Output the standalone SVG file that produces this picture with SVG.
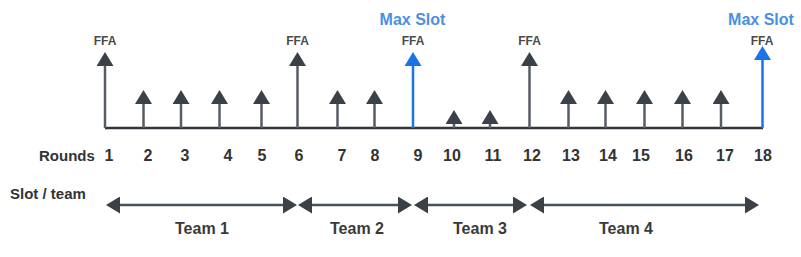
<svg xmlns="http://www.w3.org/2000/svg" width="801" height="257" viewBox="0 0 801 257">
<style>
text{font-family:"Liberation Sans",Arial,sans-serif;font-weight:bold;text-anchor:middle}
.ffa{font-size:12px;fill:#4a4a4a}
.max{font-size:16px;fill:#4a90e2}
.num{font-size:16px;fill:#333}
.lbl{font-size:15px;fill:#333;text-anchor:start}
.team{font-size:16px;fill:#3a3a3a}
.stem{stroke:#575d65;stroke-width:2.5;marker-end:url(#hd)}
.blue{stroke:#1a73e8;stroke-width:2.5;marker-end:url(#hb)}
.base{stroke:#30353b;stroke-width:2.5}
.span{stroke:#4a5058;stroke-width:2.5;marker-start:url(#hh);marker-end:url(#hh)}
</style>
<defs>
<marker id="hd" viewBox="0 0 14 17" refX="0" refY="8.5" markerWidth="14" markerHeight="17" markerUnits="userSpaceOnUse" orient="auto"><path d="M0,0 L14,8.5 L0,17 Z" fill="#3b4149"/></marker>
<marker id="hb" viewBox="0 0 14 17" refX="0" refY="8.5" markerWidth="14" markerHeight="17" markerUnits="userSpaceOnUse" orient="auto"><path d="M0,0 L14,8.5 L0,17 Z" fill="#1a73e8"/></marker>
<marker id="hh" viewBox="0 0 14 17" refX="0" refY="8.5" markerWidth="14" markerHeight="17" markerUnits="userSpaceOnUse" orient="auto-start-reverse"><path d="M0,0 L14,8.5 L0,17 Z" fill="#3b4149"/></marker>
</defs>
<g id="connectors">
<line class="base" x1="105" y1="128" x2="763" y2="128"/>
<line class="stem" x1="105" y1="128" x2="105" y2="66"/>
<line class="stem" x1="143.5" y1="128" x2="143.5" y2="104"/>
<line class="stem" x1="181" y1="128" x2="181" y2="104"/>
<line class="stem" x1="219.5" y1="128" x2="219.5" y2="104"/>
<line class="stem" x1="261.5" y1="128" x2="261.5" y2="104"/>
<line class="stem" x1="297.5" y1="128" x2="297.5" y2="66"/>
<line class="stem" x1="337.5" y1="128" x2="337.5" y2="104"/>
<line class="stem" x1="374.5" y1="128" x2="374.5" y2="104"/>
<line class="blue" x1="413" y1="128" x2="413" y2="66"/>
<line class="stem" x1="454" y1="128" x2="454" y2="124"/>
<line class="stem" x1="490" y1="128" x2="490" y2="124"/>
<line class="stem" x1="529.5" y1="128" x2="529.5" y2="66"/>
<line class="stem" x1="568.5" y1="128" x2="568.5" y2="104"/>
<line class="stem" x1="605.5" y1="128" x2="605.5" y2="104"/>
<line class="stem" x1="644.5" y1="128" x2="644.5" y2="104"/>
<line class="stem" x1="682.5" y1="128" x2="682.5" y2="104"/>
<line class="stem" x1="721" y1="128" x2="721" y2="104"/>
<line class="blue" x1="762.5" y1="128" x2="762.5" y2="60"/>
<line class="span" x1="120" y1="205" x2="283" y2="205"/>
<line class="span" x1="312" y1="205" x2="398" y2="205"/>
<line class="span" x1="428" y1="205" x2="513" y2="205"/>
<line class="span" x1="544" y1="205" x2="745" y2="205"/>
</g>
<g id="ffa-labels">
<text class="ffa" x="105" y="44.5">FFA</text>
<text class="ffa" x="297.5" y="44.5">FFA</text>
<text class="ffa" x="413" y="44.5">FFA</text>
<text class="ffa" x="529.5" y="44.5">FFA</text>
<text class="ffa" x="762" y="44.5">FFA</text>
</g>
<g id="max-slot-labels">
<text class="max" x="412.5" y="25">Max Slot</text>
<text class="max" x="761" y="25">Max Slot</text>
</g>
<g id="rounds">
<text class="lbl" x="39" y="160.5">Rounds</text>
<text class="num" x="109" y="161">1</text>
<text class="num" x="148" y="161">2</text>
<text class="num" x="185" y="161">3</text>
<text class="num" x="228" y="161">4</text>
<text class="num" x="262" y="161">5</text>
<text class="num" x="299" y="161">6</text>
<text class="num" x="342" y="161">7</text>
<text class="num" x="375" y="161">8</text>
<text class="num" x="418" y="161">9</text>
<text class="num" x="452" y="161">10</text>
<text class="num" x="493" y="161">11</text>
<text class="num" x="532" y="161">12</text>
<text class="num" x="571" y="161">13</text>
<text class="num" x="608" y="161">14</text>
<text class="num" x="641" y="161">15</text>
<text class="num" x="684" y="161">16</text>
<text class="num" x="725" y="161">17</text>
<text class="num" x="763" y="161">18</text>
</g>
<g id="teams">
<text class="lbl" x="10" y="198.5">Slot / team</text>
<text class="team" x="202" y="234">Team 1</text>
<text class="team" x="357" y="234">Team 2</text>
<text class="team" x="480" y="234">Team 3</text>
<text class="team" x="626" y="234">Team 4</text>
</g>
</svg>
